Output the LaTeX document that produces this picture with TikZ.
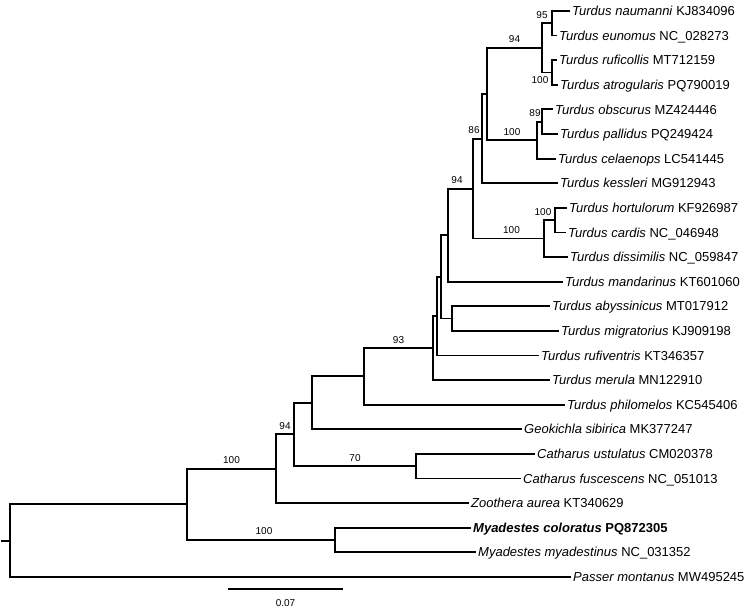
\documentclass[tikz,border=0pt]{standalone}
\usepackage{fontspec}
\setmainfont{Liberation Sans}

\begin{document}
\begin{tikzpicture}[x=1pt, y={(0pt,-24.6pt)},
    branch/.style={black, line width=1.8pt},
    tip/.style={anchor=west, inner xsep=2pt, inner ysep=0pt, text height=9.3pt, text depth=0pt, font=\fontsize{13}{15}\selectfont},
    bs/.style={pos=0.75, above=4pt, inner sep=0pt, font=\fontsize{10}{12}\selectfont},
    bsbelow/.style={pos=0.75, below=3.5pt, inner sep=0pt, font=\fontsize{10}{12}\selectfont}]
    \useasboundingbox (0,0.553) rectangle (750,25.35);

    % tips
    \node[tip] (naumanni) at (570,1) {\textit{Turdus naumanni} KJ834096};
    \node[tip] (eunomus) at (557,2) {\textit{Turdus eunomus} NC\_028273};
    \node[tip] (ruficollis) at (557,3) {\textit{Turdus ruficollis} MT712159};
    \node[tip] (atrogularis) at (558,4) {\textit{Turdus atrogularis} PQ790019};
    \node[tip] (obscurus) at (553,5) {\textit{Turdus obscurus} MZ424446};
    \node[tip] (pallidus) at (558,6) {\textit{Turdus pallidus} PQ249424};
    \node[tip] (celaenops) at (556,7) {\textit{Turdus celaenops} LC541445};
    \node[tip] (kessleri) at (558,8) {\textit{Turdus kessleri} MG912943};
    \node[tip] (hortulorum) at (567,9) {\textit{Turdus hortulorum} KF926987};
    \node[tip] (cardis) at (566,10) {\textit{Turdus cardis} NC\_046948};
    \node[tip] (dissimilis) at (568,11) {\textit{Turdus dissimilis} NC\_059847};
    \node[tip] (mandarinus) at (563,12) {\textit{Turdus mandarinus} KT601060};
    \node[tip] (abyssinicus) at (550,13) {\textit{Turdus abyssinicus} MT017912};
    \node[tip] (migratorius) at (559,14) {\textit{Turdus migratorius} KJ909198};
    \node[tip] (rufiventris) at (539,15) {\textit{Turdus rufiventris} KT346357};
    \node[tip] (merula) at (550,16) {\textit{Turdus merula} MN122910};
    \node[tip] (philomelos) at (565,17) {\textit{Turdus philomelos} KC545406};
    \node[tip] (sibirica) at (522,18) {\textit{Geokichla sibirica} MK377247};
    \node[tip] (ustulatus) at (535,19) {\textit{Catharus ustulatus} CM020378};
    \node[tip] (fuscescens) at (521,20) {\textit{Catharus fuscescens} NC\_051013};
    \node[tip] (aurea) at (469,21) {\textit{Zoothera aurea} KT340629};
    \node[tip, font=\fontsize{13}{15}\selectfont\bfseries] (coloratus) at (471,22) {\textit{Myadestes coloratus} PQ872305};
    \node[tip] (myadestinus) at (476,23) {\textit{Myadestes myadestinus} NC\_031352};
    \node[tip] (montanus) at (571,24) {\textit{Passer montanus} MW495245};

    % internal nodes
    \coordinate (stub) at (1,22.53);
    \coordinate (root) at (10,22.53);
    \coordinate (thrushes) at (187,21.05);
    \coordinate (turdinae) at (276,19.61);
    \coordinate (core) at (294,18.21);
    \coordinate (catharus) at (416,19.5);
    \coordinate (myadestes) at (335,22.5);
    \coordinate (geok) at (312,16.93);
    \coordinate (turdus) at (364,15.85);
    \coordinate (tA) at (433,14.70);
    \coordinate (tB) at (437,13.40);
    \coordinate (tC) at (441,11.80);
    \coordinate (tD) at (452,13.5);
    \coordinate (tE) at (448,10.11);
    \coordinate (tF) at (473,8.22);
    \coordinate (tG) at (482,6.19);
    \coordinate (tH) at (544,10.25);
    \coordinate (tI) at (555,9.5);
    \coordinate (tJ) at (487,4.375);
    \coordinate (tK) at (542,2.5);
    \coordinate (tL) at (537,6.25);
    \coordinate (tM) at (552,1.5);
    \coordinate (tN) at (552,3.5);
    \coordinate (tO) at (542,5.5);

    % branches
    \draw[branch] (stub) -- (root);
    \draw[branch] (root) |- (thrushes);
    \draw[branch] (root) |- (montanus.west);
    \draw[branch] (thrushes) |- node[bs] (s1) {100} (turdinae);
    \draw[branch] (thrushes) |- node[bs, xshift=3pt] (s2) {100} (myadestes);
    \draw[branch] (myadestes) |- (coloratus.west);
    \draw[branch] (myadestes) |- (myadestinus.west);
    \draw[branch] (turdinae) |- node[bs] (s3) {94} (core);
    \draw[branch] (turdinae) |- (aurea.west);
    \draw[branch] (core) |- node[bs] (s4) {70} (catharus);
    \draw[branch] (catharus) |- (ustulatus.west);
    \draw[branch] (catharus) |- (fuscescens.west);
    \draw[branch] (core) |- (geok);
    \draw[branch] (geok) |- (sibirica.west);
    \draw[branch] (geok) |- (turdus);
    \draw[branch] (turdus) |- node[bs] (s5) {93} (tA);
    \draw[branch] (turdus) |- (philomelos.west);
    \draw[branch] (tA) |- (tB);
    \draw[branch] (tA) |- (merula.west);
    \draw[branch] (tB) |- (tC);
    \draw[branch] (tB) |- (rufiventris.west);
    \draw[branch] (tC) |- (tE);
    \draw[branch] (tC) |- (tD);
    \draw[branch] (tD) |- (abyssinicus.west);
    \draw[branch] (tD) |- (migratorius.west);
    \draw[branch] (tE) |- node[bs, xshift=-3.5pt] (s6) {94} (tF);
    \draw[branch] (tE) |- (mandarinus.west);
    \draw[branch] (tF) |- node[bs, xshift=-3.5pt] (s7) {86} (tG);
    \draw[branch] (tF) |- node[bs, xshift=3pt] (s8) {100} (tH);
    \draw[branch] (tH) |- node[bs, xshift=-6.5pt] (s9) {100} (tI);
    \draw[branch] (tH) |- (dissimilis.west);
    \draw[branch] (tI) |- (hortulorum.west);
    \draw[branch] (tI) |- (cardis.west);
    \draw[branch] (tG) |- (tJ);
    \draw[branch] (tG) |- (kessleri.west);
    \draw[branch] (tJ) |- node[bs] (s10) {94} (tK);
    \draw[branch] (tJ) |- node[bs] (s11) {100} (tL);
    \draw[branch] (tK) |- node[bs, xshift=-5pt] (s12) {95} (tM);
    \draw[branch] (tK) |- node[bsbelow, xshift=-7pt] (s13) {100} (tN);
    \draw[branch] (tM) |- (naumanni.west);
    \draw[branch] (tM) |- (eunomus.west);
    \draw[branch] (tN) |- (ruficollis.west);
    \draw[branch] (tN) |- (atrogularis.west);
    \draw[branch] (tL) |- node[bs, xshift=-4.5pt] (s14) {89} (tO);
    \draw[branch] (tL) |- (celaenops.west);
    \draw[branch] (tO) |- (obscurus.west);
    \draw[branch] (tO) |- (pallidus.west);

    % scale bar
    \coordinate (sb1) at (228,24.496);
    \coordinate (sb2) at (343,24.496);
    \draw[branch] (sb1) -- node[below=10pt, inner sep=0pt, font=\fontsize{10}{12}\selectfont] (sblabel) {0.07} (sb2);
\end{tikzpicture}
\end{document}
